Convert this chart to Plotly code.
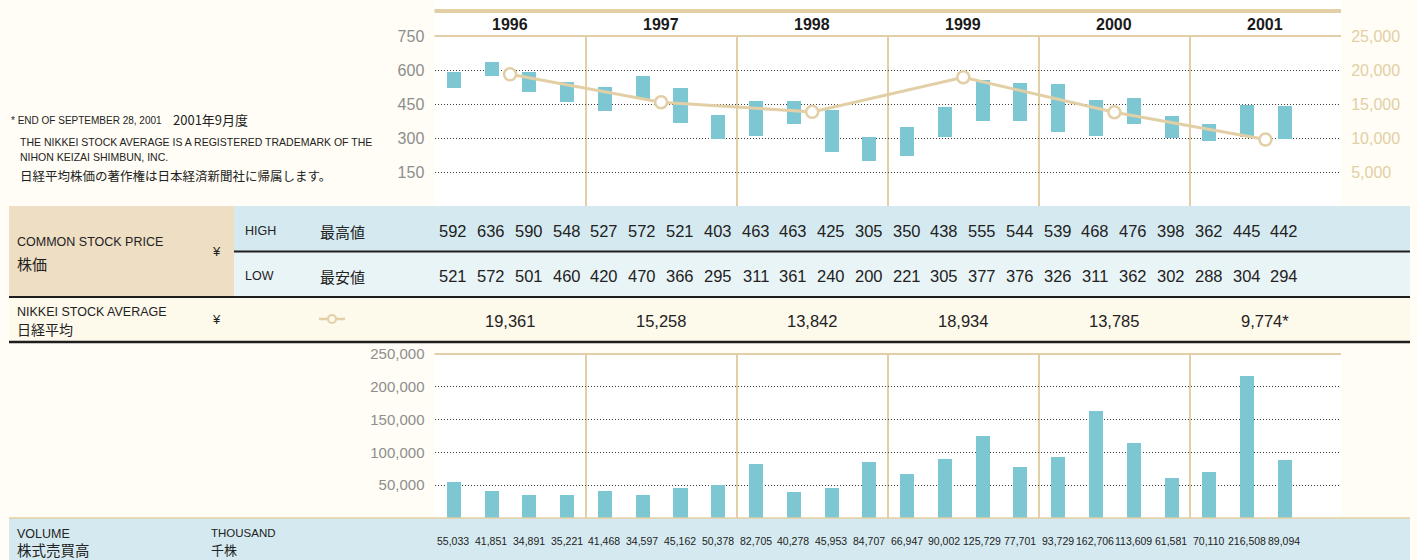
import plotly.graph_objects as go

# ---------------- data ----------------
years = ["1996", "1997", "1998", "1999", "2000", "2001"]
quarters_per_year = [4, 4, 4, 4, 4, 3]
high = [592, 636, 590, 548, 527, 572, 521, 403, 463, 463, 425, 305,
        350, 438, 555, 544, 539, 468, 476, 398, 362, 445, 442]
low = [521, 572, 501, 460, 420, 470, 366, 295, 311, 361, 240, 200,
       221, 305, 377, 376, 326, 311, 362, 302, 288, 304, 294]
nikkei = [19361, 15258, 13842, 18934, 13785, 9774]
nikkei_labels = ["19,361", "15,258", "13,842", "18,934", "13,785", "9,774*"]
volume = [55033, 41851, 34891, 35221, 41468, 34597, 45162, 50378,
          82705, 40278, 45953, 84707, 66947, 90002, 125729, 77701,
          93729, 162706, 113609, 61581, 70110, 216508, 89094]
price_ticks = [150, 300, 450, 600, 750]
nikkei_ticks = [5000, 10000, 15000, 20000, 25000]
volume_ticks = [50000, 100000, 150000, 200000, 250000]

# ---------------- styles ----------------
W, H = 1418, 560
BLUE = "#7DC7D3"
TAN = "#E3CFA5"
CREAM = "#FFFDF5"
GRID = "#3A3A3A"
SANS = "'Liberation Sans', Arial, sans-serif"
JP = "'Noto Sans CJK JP', sans-serif"
DARK = "#1E1E1E"


def px(x):
    return x / W


def py(y):
    return 1 - y / H


# numeric x positions: one unit per year, quarters inside the year
bar_x = []
for yi, n in enumerate(quarters_per_year):
    for q in range(n):
        bar_x.append(yi + (q + 0.5) / 4)
year_x = [yi + 0.5 for yi in range(len(years))]

fig = go.Figure()
fig.add_trace(go.Bar(
    x=bar_x, y=[h - l for h, l in zip(high, low)], base=low,
    marker=dict(color=BLUE, line=dict(width=0)), width=0.093,
    xaxis="x", yaxis="y", hoverinfo="skip"))
fig.add_trace(go.Scatter(
    x=year_x, y=nikkei, mode="lines+markers",
    line=dict(color=TAN, width=3),
    marker=dict(size=12, color="white", line=dict(color=TAN, width=2.5)),
    xaxis="x", yaxis="y2", hoverinfo="skip"))
fig.add_trace(go.Bar(
    x=bar_x, y=volume, marker=dict(color=BLUE, line=dict(width=0)),
    width=0.093, xaxis="x2", yaxis="y3", hoverinfo="skip"))

xdom = [px(434.5), px(1341)]
common_x = dict(domain=xdom, range=[0, len(years)], tickvals=list(range(1, len(years))),
                showticklabels=False, showgrid=True, gridcolor=TAN, gridwidth=2,
                zeroline=False, ticks="", fixedrange=True, automargin=False)
common_y = dict(showgrid=True, gridcolor=GRID, griddash="1px,2px", gridwidth=1,
                zeroline=False, ticks="outside", ticklen=6,
                tickcolor="rgba(0,0,0,0)", fixedrange=True, automargin=False)

fig.update_layout(
    template="none",
    width=W, height=H, margin=dict(l=0, r=0, t=0, b=0, pad=0), autosize=False,
    paper_bgcolor=CREAM, plot_bgcolor="white", showlegend=False, bargap=0,
    xaxis=dict(anchor="y", **common_x),
    xaxis2=dict(anchor="y3", matches="x", **common_x),
    yaxis=dict(anchor="x", domain=[py(206), py(36)], range=[0, 750], tickvals=price_ticks,
               tickfont=dict(family=SANS, size=16, color="#8E8E8E"), **common_y),
    yaxis2=dict(anchor="x", overlaying="y", side="right", range=[0, 25000],
                tickvals=nikkei_ticks, tickformat=",", showgrid=False, zeroline=False,
                ticks="outside", ticklen=6, tickcolor="rgba(0,0,0,0)", automargin=False,
                tickfont=dict(family=SANS, size=16, color=TAN), fixedrange=True),
    yaxis3=dict(anchor="x2", domain=[py(518), py(354)], range=[0, 250000],
                tickvals=volume_ticks, tickformat=",",
                tickfont=dict(family=SANS, size=15, color="#8E8E8E"), **common_y),
)

shapes = []


def rect(x0, y0, x1, y1, color, layer="below"):
    shapes.append(dict(type="rect", xref="paper", yref="paper", x0=px(x0), x1=px(x1),
                       y0=py(y1), y1=py(y0), fillcolor=color, line=dict(width=0), layer=layer))


def hline(x0, x1, y, color, width, layer="above"):
    shapes.append(dict(type="line", xref="paper", yref="paper", x0=px(x0), x1=px(x1),
                       y0=py(y), y1=py(y), line=dict(color=color, width=width), layer=layer))


rect(434.5, 0, 1341, 36, "white")
hline(434.5, 1341, 11, TAN, 4)
hline(434.5, 1341, 36, TAN, 2)
# table rows
rect(9, 206, 234, 297, "#EEDEC4")
rect(234, 206, 1410, 251, "#D5EAF0")
rect(234, 251, 1410, 297, "#E9F4F7")
rect(9, 297, 1410, 342, "#FDF9EB")
hline(234, 1410, 251.5, DARK, 2)
hline(9, 1410, 297, DARK, 2)
hline(9, 1410, 342, DARK, 2.5)
# volume panel
hline(434.5, 1341, 354, TAN, 2)
rect(9, 518, 1410, 560, "#D5EAF0", layer="above")
hline(9, 1410, 518, TAN, 1.5)
# legend symbol in the Nikkei row
hline(319, 345, 319, TAN, 2.5)
shapes.append(dict(type="circle", xref="paper", yref="paper",
                   x0=px(328), x1=px(336), y0=py(323), y1=py(315),
                   fillcolor="#FDF9EB", line=dict(color=TAN, width=2), layer="above"))
fig.update_layout(shapes=shapes)

ann = []


def text(x, y, s, size, family=SANS, color="#222", xanchor="left", xref="paper", bold=False):
    ann.append(dict(x=px(x) if xref == "paper" else x, y=py(y), xref=xref, yref="paper",
                    text=("<b>%s</b>" % s) if bold else s, showarrow=False,
                    xanchor=xanchor, yanchor="middle",
                    font=dict(family=family, size=size, color=color)))


# year headers
for xv, yr in zip(year_x, years):
    text(xv, 25, yr, 16, color="#1A1A1A", xanchor="center", xref="x", bold=True)

# notes
text(9, 120, "* END OF SEPTEMBER 28, 2001", 10)
text(171, 119, "2001年9月度", 13, family=JP)
text(18, 142, "THE NIKKEI STOCK AVERAGE IS A REGISTERED TRADEMARK OF THE", 10.5)
text(18, 157, "NIHON KEIZAI SHIMBUN, INC.", 10.5)
text(18, 175, "日経平均株価の著作権は日本経済新聞社に帰属します。", 12.5, family=JP)

# row headers
text(15, 242, "COMMON STOCK PRICE", 12.5)
text(15, 263, "株価", 15, family=JP)
text(210, 252, "¥", 13)
text(243, 231, "HIGH", 12.5)
text(318, 231, "最高値", 15, family=JP)
text(243, 276, "LOW", 12.5)
text(318, 276, "最安値", 15, family=JP)
text(15, 312, "NIKKEI STOCK AVERAGE", 12.5)
text(15, 329, "日経平均", 14, family=JP)
text(210, 319, "¥", 13)
text(15, 534, "VOLUME", 12.5)
text(15, 549, "株式売買高", 14.5, family=JP)
text(209, 533, "THOUSAND", 11.5)
text(209, 549, "千株", 13, family=JP)

# table values
for xv, h, l, v in zip(bar_x, high, low, volume):
    text(xv, 231, str(h), 16.5, xanchor="center", xref="x")
    text(xv, 276, str(l), 16.5, xanchor="center", xref="x")
    text(xv, 541, f"{v:,}", 10.5, xanchor="center", xref="x")
for xv, lab in zip(year_x, nikkei_labels):
    text(xv, 321, lab, 16.5, xanchor="center", xref="x")

fig.update_layout(annotations=ann)
fig.write_html("out.html", config={"displayModeBar": False},
               post_script="document.body.style.margin='0';")
